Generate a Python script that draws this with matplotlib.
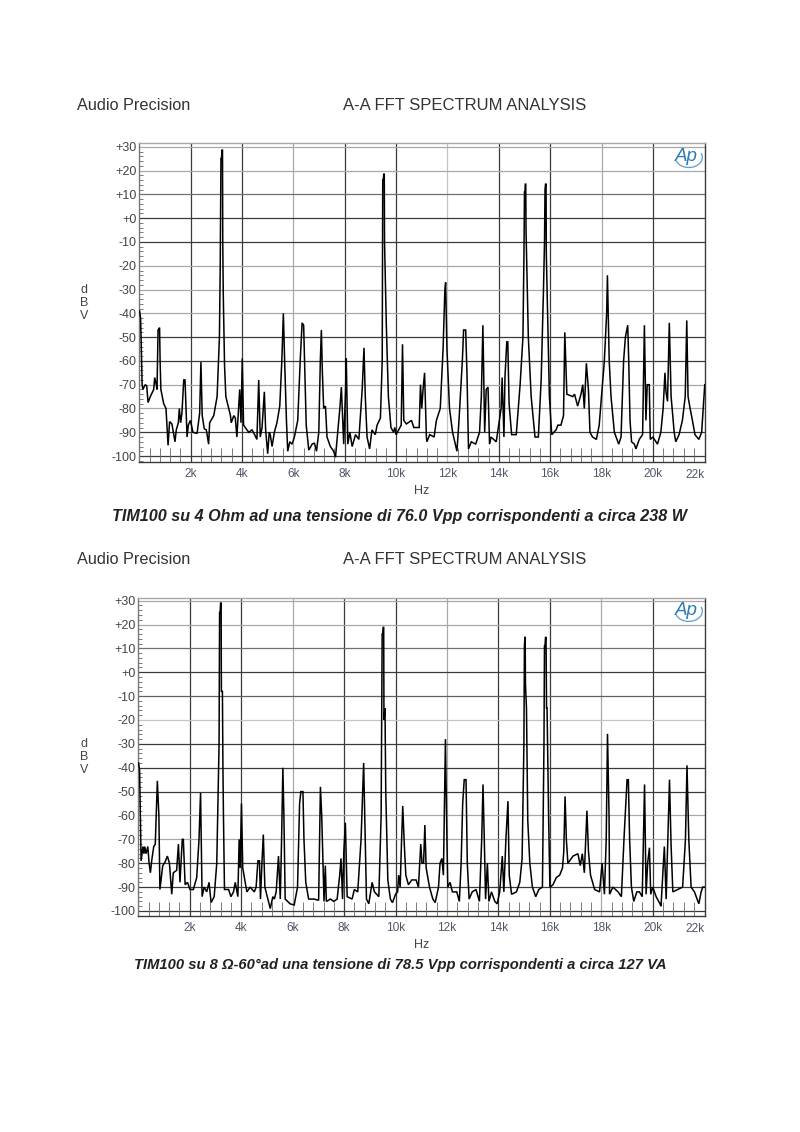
import matplotlib
matplotlib.use('Agg')
import matplotlib.pyplot as plt
from matplotlib.patches import Arc
import numpy as np

plt.rcParams['font.family'] = ['Liberation Sans', 'DejaVu Sans']

# spectrum, kHz / dBV
freq1 = [0.01,0.05,0.08,0.11,0.14,0.23,0.29,0.34,0.43,0.56,0.60,0.66,0.69,0.73,0.79,0.81,0.84,0.95,1.04,1.12,1.18,1.27,1.39,1.44,1.52,1.56,1.61,1.66,1.73,1.78,1.86,1.91,1.99,2.09,2.25,2.35,2.40,2.45,2.53,2.61,2.70,2.74,2.90,3.03,3.12,3.15,3.18,3.20,3.22,3.24,3.25,3.27,3.32,3.37,3.55,3.58,3.68,3.74,3.80,3.91,3.96,4.01,4.06,4.19,4.26,4.39,4.49,4.58,4.65,4.71,4.78,4.87,4.92,5.00,5.06,5.10,5.17,5.26,5.36,5.47,5.55,5.61,5.66,5.73,5.78,5.86,5.95,6.04,6.17,6.27,6.34,6.40,6.43,6.50,6.60,6.73,6.82,6.90,6.99,7.05,7.09,7.13,7.18,7.25,7.31,7.44,7.57,7.64,7.81,7.87,7.96,8.03,8.06,8.12,8.20,8.29,8.42,8.55,8.68,8.75,8.80,8.87,8.97,9.06,9.19,9.26,9.39,9.46,9.48,9.50,9.52,9.54,9.55,9.58,9.62,9.70,9.80,9.90,9.95,10.00,10.20,10.25,10.30,10.40,10.60,10.69,10.90,10.95,11.00,11.05,11.11,11.18,11.20,11.31,11.48,11.57,11.72,11.83,11.90,11.93,11.98,12.08,12.20,12.37,12.45,12.58,12.63,12.71,12.76,12.82,12.93,13.10,13.25,13.32,13.38,13.45,13.51,13.58,13.64,13.70,13.90,14.09,14.13,14.20,14.24,14.31,14.35,14.40,14.50,14.68,14.83,14.94,14.98,15.00,15.02,15.03,15.05,15.06,15.09,15.15,15.26,15.41,15.54,15.65,15.74,15.78,15.80,15.82,15.84,15.85,15.90,15.97,16.06,16.23,16.30,16.42,16.52,16.57,16.65,16.88,16.95,17.07,17.20,17.27,17.33,17.41,17.49,17.55,17.65,17.80,17.91,18.11,18.20,18.23,18.30,18.37,18.50,18.67,18.76,18.86,18.93,19.02,19.06,19.11,19.17,19.28,19.34,19.47,19.60,19.67,19.73,19.78,19.86,19.90,20.00,20.18,20.31,20.40,20.47,20.51,20.57,20.64,20.71,20.83,20.89,21.02,21.15,21.26,21.32,21.37,21.45,21.54,21.64,21.79,21.90,21.96,22.02]
dbv1 = [-39,-42,-55,-70,-72,-70,-70.5,-77.5,-75,-72,-67,-70,-72,-47,-46,-60,-72,-78,-80,-95.5,-85.5,-86.5,-94,-89,-86,-80,-86,-82,-68,-68,-92,-87,-85,-90,-90.5,-82,-60.5,-83,-88.5,-89,-95,-86,-83,-75,-50,-22,25,25,28.6,28.6,-10,-32,-62,-75,-83,-86,-83,-84,-92,-72,-86,-59,-87,-89,-90,-89,-91,-93,-68,-92,-88,-73,-89,-99,-90,-91,-96,-90,-86,-79,-60,-40,-60,-85,-98,-94,-95,-92,-85,-59,-44,-45,-58,-87,-97.5,-95,-94.5,-98,-90,-60,-47,-65,-80,-79,-92,-96,-98,-100.5,-80,-71,-95,-73,-59,-95,-90,-96,-91,-93,-72,-54.5,-75,-92,-97,-89,-91,-87,-84,-60,16,16,18.5,18.5,-10,-25,-45,-75,-88,-90,-88,-91,-87,-53,-85,-86.5,-85,-88,-88,-70,-80,-72,-65,-92,-94,-91,-92,-85,-80,-55,-30,-27,-55,-80,-90,-98,-85,-60,-47,-47,-65,-97,-94,-95,-90,-75,-45,-90,-72,-71,-95,-92,-94,-80,-67,-92,-67,-52,-52,-78,-91,-91,-70,-50,-15,11,11,14.3,14.3,-5,-20,-50,-75,-92,-92,-68,-30,-10,12,14.3,14.3,-15,-40,-75,-91,-89,-87,-87,-83,-48,-74,-75,-74,-79,-74,-70,-80,-61,-72,-90,-92,-93,-87,-60,-40,-24,-60,-75,-90,-95,-92,-60,-50,-45,-60,-85,-94,-95,-97,-93,-91,-45,-85,-70,-70,-93,-92,-95,-90,-80,-65,-73,-77,-44,-75,-90,-94,-91,-85,-75,-43,-75,-80,-85,-91,-93,-90,-80,-70]

freq2 = [0.01,0.05,0.08,0.11,0.18,0.22,0.25,0.30,0.37,0.42,0.47,0.52,0.60,0.66,0.74,0.80,0.84,0.95,1.04,1.13,1.21,1.30,1.36,1.49,1.56,1.62,1.71,1.75,1.82,1.91,2.01,2.14,2.27,2.36,2.42,2.48,2.56,2.66,2.75,2.83,2.95,3.05,3.14,3.16,3.18,3.20,3.22,3.23,3.27,3.29,3.31,3.35,3.51,3.60,3.70,3.77,3.87,3.92,3.96,4.01,4.06,4.22,4.35,4.51,4.58,4.65,4.71,4.75,4.81,4.86,4.92,5.13,5.23,5.29,5.36,5.45,5.52,5.57,5.62,5.66,5.71,5.90,6.06,6.19,6.27,6.32,6.40,6.44,6.51,6.62,6.82,7.01,7.08,7.13,7.18,7.22,7.27,7.31,7.47,7.60,7.73,7.83,7.88,7.94,7.99,8.05,8.12,8.31,8.40,8.53,8.66,8.76,8.82,8.87,8.96,9.03,9.09,9.18,9.35,9.44,9.48,9.50,9.52,9.54,9.55,9.59,9.62,9.70,9.80,9.88,10.00,10.08,10.12,10.18,10.23,10.28,10.34,10.40,10.50,10.63,10.80,10.89,10.98,11.03,11.09,11.14,11.19,11.32,11.45,11.54,11.67,11.73,11.80,11.86,11.94,11.99,12.03,12.12,12.21,12.38,12.48,12.55,12.61,12.67,12.74,12.79,12.86,12.98,13.13,13.26,13.35,13.40,13.45,13.50,13.57,13.63,13.73,13.86,13.95,14.05,14.15,14.21,14.29,14.37,14.42,14.51,14.70,14.83,14.92,14.99,15.01,15.03,15.04,15.05,15.09,15.14,15.22,15.32,15.45,15.57,15.71,15.77,15.79,15.81,15.83,15.85,15.87,15.89,15.95,16.00,16.12,16.25,16.38,16.49,16.54,16.59,16.64,16.70,16.90,17.09,17.18,17.26,17.34,17.44,17.50,17.58,17.74,17.93,18.03,18.12,18.19,18.24,18.30,18.32,18.45,18.65,18.78,18.88,19.00,19.05,19.10,19.17,19.26,19.38,19.48,19.59,19.68,19.74,19.80,19.87,19.92,20.00,20.13,20.28,20.32,20.45,20.52,20.58,20.65,20.71,20.78,20.97,21.16,21.27,21.33,21.40,21.49,21.62,21.79,21.88,21.94,22.02]
dbv2 = [-38,-41,-60,-79,-73,-76,-73,-76,-73,-80,-84,-79,-73,-72,-45.5,-60,-91,-81,-79.5,-77,-80,-93,-84,-83,-72,-88,-70,-70,-89,-88,-91,-91,-86,-70,-50.5,-94,-90,-92,-88,-96.5,-94,-80,-30,25,25,29,29,-8,-8,-40,-60,-91,-91,-94,-92,-88,-94,-70,-82,-55,-82,-92,-90,-92,-90,-79,-79,-95,-79,-68,-90,-99,-94,-95,-92,-77,-95,-70,-40,-60,-95,-97,-97.5,-90,-55,-50,-50,-70,-88,-95,-95,-95.5,-48,-60,-80,-96,-81,-96,-95,-96,-95,-85,-78,-95,-75,-63,-94,-95,-91,-92,-70,-38,-70,-95,-97,-92,-88,-92,-94,-60,16,16,18.8,18.8,-20,-15,-50,-87,-95,-96.5,-93,-92,-85,-90,-72,-56,-72,-85,-89,-87,-87,-90,-72,-80,-80,-64,-82,-90,-95,-96.5,-90,-80,-78,-85,-28,-65,-90,-88,-92,-92,-96,-80,-55,-45,-45,-80,-95,-92,-91,-96,-70,-47,-70,-95,-80,-96,-92,-96,-97,-92,-77,-92,-70,-54,-85,-93,-92,-88,-78,-30,11,14.6,14.6,-5,-15,-62,-80,-90,-94,-91,-90,-30,11,11,14.6,14.6,-15,-15,-60,-90,-89,-86,-85,-82,-75,-52,-70,-80,-77,-76,-81,-76,-84,-58,-75,-85,-91,-92,-80,-93,-70,-25.8,-60,-93,-90,-92,-94,-70,-45,-45,-70,-90,-96,-92,-92,-94,-47,-93,-80,-73.5,-93,-90,-94,-97,-98,-73,-95,-72,-45,-72,-92,-91,-90,-70,-39,-70,-90,-92,-97,-92,-90,-90]

x_major = [2, 4, 6, 8, 10, 12, 14, 16, 18, 20]
x_labels = ['2k', '4k', '6k', '8k', '10k', '12k', '14k', '16k', '18k', '20k']
y_major = [30, 20, 10, 0, -10, -20, -30, -40, -50, -60, -70, -80, -90, -100]
y_labels = ['+30', '+20', '+10', '+0', '-10', '-20', '-30', '-40', '-50', '-60', '-70', '-80', '-90', '-100']

DARK = '#3a3a3a'
GRAY = '#a8a8a8'
LIGHT = '#c4c4c4'
TEXT = '#444444'

vgrid1 = [DARK, DARK, GRAY, DARK, DARK, LIGHT, DARK, DARK, GRAY, DARK]
hgrid1 = [GRAY, GRAY, '#707070', DARK, DARK, GRAY, GRAY, GRAY, DARK, DARK, GRAY, GRAY, DARK, DARK]
vgrid2 = [DARK, DARK, GRAY, DARK, DARK, GRAY, DARK, DARK, GRAY, DARK]
hgrid2 = [GRAY, GRAY, '#707070', DARK, '#606060', LIGHT, DARK, DARK, DARK, GRAY, GRAY, DARK, DARK, DARK]

W, H = 800, 1132


def drawPanel(fig, freq, dbv, box, ylim, vgrid, hgrid):
    left, right, top, bottom = box
    ax = fig.add_axes([left/W, 1 - bottom/H, (right - left)/W, (bottom - top)/H])
    ax.set_xlim(0.0, 22.03)
    ax.set_ylim(*ylim)

    for x, c in zip(x_major, vgrid):
        ax.axvline(x, color=c, lw=0.9, zorder=1)
    for y, c in zip(y_major, hgrid):
        ax.axhline(y, color=c, lw=0.9, zorder=1)

    ax.plot(freq, dbv, color='black', lw=1.1, zorder=3, solid_joinstyle='miter')

    ax.set_xticks(x_major)
    ax.set_xticklabels(x_labels, fontsize=8.6, color='#50586a')
    ax.set_yticks(y_major)
    ax.set_yticklabels(y_labels, fontsize=9, color=TEXT)
    ax.tick_params(axis='x', length=0, pad=4.5)
    ax.tick_params(axis='y', length=0, pad=2)

    # short ticks inside the frame, every 0.4 kHz and 2 dB
    ax.set_xticks(np.arange(0.4, 22.0, 0.4), minor=True)
    ax.set_yticks(np.arange(-102, 32, 2), minor=True)
    ax.tick_params(axis='x', which='minor', direction='in', length=10, width=0.6, color='#666666')
    ax.tick_params(axis='y', which='minor', direction='in', length=3.2, width=0.6, color='#666666')

    ax.text(1.0, -0.0205, '22k', transform=ax.transAxes, ha='right', va='top', fontsize=8.6, color='#50586a')

    for side, c in [('top', GRAY), ('left', '#777777'), ('right', DARK), ('bottom', DARK)]:
        ax.spines[side].set_color(c)
        ax.spines[side].set_linewidth(1.0)

    # AP logo
    ax.text(21.3, 25.8, 'Ap', fontsize=13.5, style='italic', color='#2b7cb5', ha='center', va='center', zorder=4)
    ax.add_patch(Arc((21.4, 25.6), 1.05, 8.6, theta1=-110, theta2=75, color='#5b9ecb', lw=0.9, zorder=4))
    return ax


def drawHeader(fig, yTitle, yAxisLabel, yHz):
    fig.text(77/W, 1 - yTitle/H, 'Audio Precision', fontsize=11.7, color='#333333', va='center')
    fig.text(464.5/W, 1 - yTitle/H, 'A-A FFT SPECTRUM ANALYSIS', fontsize=11.95, color='#333333', va='center', ha='center')
    for i, ch in enumerate('dBV'):
        fig.text(84/W, 1 - (yAxisLabel + i*13)/H, ch, fontsize=9, color=TEXT, ha='center', va='center')
    fig.text(422/W, 1 - yHz/H, 'Hz', fontsize=9, color=TEXT, ha='center', va='center')


fig = plt.figure(figsize=(W/100, H/100), dpi=100, facecolor='white')

drawPanel(fig, freq1, dbv1, (139.3, 705, 143, 462), (-102.5, 31.6), vgrid1, hgrid1)
drawHeader(fig, 105, 290, 491)
fig.text(400/W, 1 - 516/H, 'TIM100 su 4 Ohm ad una tensione di 76.0 Vpp corrispondenti a circa 238 W',
         fontsize=11.65, style='italic', weight='bold', color='#222222', ha='center', va='center')

drawPanel(fig, freq2, dbv2, (138.3, 705, 598, 916), (-102.1, 31.1), vgrid2, hgrid2)
drawHeader(fig, 559, 744, 945)
fig.text(400/W, 1 - 965/H, 'TIM100 su 8 Ω-60°ad una tensione di 78.5 Vpp corrispondenti a circa 127 VA',
         fontsize=10.6, style='italic', weight='bold', color='#222222', ha='center', va='center')

fig.savefig('out.png', dpi=100)
